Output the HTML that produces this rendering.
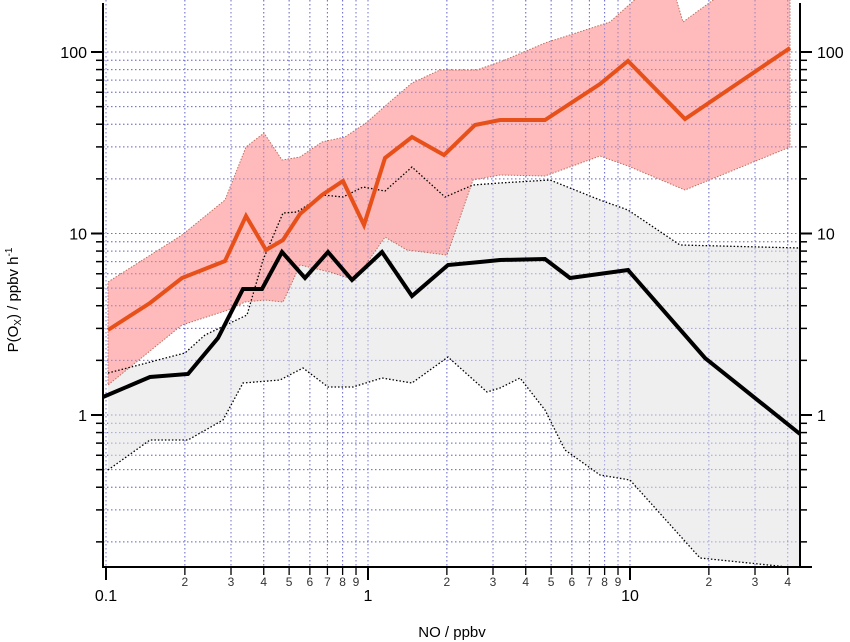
<!DOCTYPE html>
<html><head><meta charset="utf-8"><style>body{margin:0;background:#fff}svg{display:block;font-family:"Liberation Sans",sans-serif}</style></head>
<body>
<svg id="s" width="850" height="642" viewBox="0 0 850 642" xmlns="http://www.w3.org/2000/svg">
<g id="grid"></g>
<polygon fill="#efefef" points="108,373 185,353 205,335 247,315 263,260 283,213 297,212 323,195 343,197 363,187 385,191 412,167 445,197 473,185 500,183 550,180 600,200 628,210 680,245 800,248 800,567 788,567 700,558 630,480 600,475 565,450 545,410 520,378 500,388 487,392 448,357 412,383 382,378 353,387 328,387 303,368 280,380 243,383 223,420 188,440 150,440 108,470"/>
<polygon fill="#ffa8a8" fill-opacity="0.78" stroke="#c07060" stroke-width="1" stroke-dasharray="1.5,1.5" points="108,282 182,235 225,200 246,147 264,133 282,160 300,157 322,142 345,137 366,123 392,100 412,83 440,70 477,70 505,60 545,43 610,22 640,-5 675,-5 683,22 720,-5 790,-5 790,147 685,190 628,166 600,156 545,176 500,175 473,180 447,255 407,250 385,237 355,280 330,272 300,265 283,302 265,300 245,302 228,310 182,325 108,385"/>
<g id="grid2"></g>
<polyline fill="none" stroke="#000" stroke-width="1.3" stroke-dasharray="1.5,2" points="108,373 185,353 205,335 247,315 263,260 283,213 297,212 323,195 343,197 363,187 385,191 412,167 445,197 473,185 500,183 550,180 600,200 628,210 680,245 800,248"/>
<polyline fill="none" stroke="#000" stroke-width="1.3" stroke-dasharray="1.5,2" points="108,470 150,440 188,440 223,420 243,383 280,380 303,368 328,387 353,387 382,378 412,383 448,357 487,392 500,388 520,378 545,410 565,450 600,475 630,480 700,558 788,567"/>
<polyline fill="none" stroke="#e8501a" stroke-width="4" stroke-linejoin="miter" points="108,330 150,303 182,278 225,261 246,216 266,250 283,240 300,214 322,195 343,181 364,225 385,158 412,137 444,155 475,125 500,120 545,120 600,84 628,61 685,119 790,48"/>
<polyline fill="none" stroke="#000" stroke-width="4" points="103,397 150,377 188,374 218,338 243,289 262,289 282,252 305,278 328,252 352,280 382,252 412,296 448,265 480,262 500,260 545,259 570,278 628,270 705,358 800,434"/>
<g id="axes" stroke="#000"></g>
<text x="18" y="300" font-size="15" transform="rotate(-90 18 300)" text-anchor="middle">P(O<tspan font-size="10" dy="3">X</tspan><tspan dy="-3">) / ppbv h</tspan><tspan font-size="10" dy="-6">-1</tspan></text>
<text x="452" y="637" font-size="15" text-anchor="middle">NO / ppbv</text>
</svg>
<script>
const NS="http://www.w3.org/2000/svg";
const X=v=>368+262*Math.log10(v), Y=v=>415-181.5*Math.log10(v);
const L=103,R=800,T=0,B=567;
function el(p,t,a,txt){const e=document.createElementNS(NS,t);for(const k in a)e.setAttribute(k,a[k]);if(txt!==undefined)e.textContent=txt;document.getElementById(p).appendChild(e);return e;}
let xs=[],ys=[];
for(const d of [0.1,1,10])for(let m=1;m<10;m++){const v=d*m;if(v<0.1-1e-9||X(v)>R)continue;xs.push([v,m]);}
for(const d of [0.1,1,10,100])for(let m=1;m<10;m++){const v=d*m;const y=Y(v);if(y<T||y>B)continue;ys.push([v,m]);}
for(const g of ["grid","grid2"]){
 const op=g=="grid"?1:0.6;
 xs.forEach(([v])=>el(g,"line",{x1:X(v),x2:X(v),y1:T,y2:B,stroke:"#7070c8","stroke-width":1,"stroke-dasharray":"1.5,2.5",opacity:op}));
 ys.forEach(([v])=>el(g,"line",{x1:L,x2:R,y1:Y(v),y2:Y(v),stroke:"#7070c8","stroke-width":1,"stroke-dasharray":"1.5,2.5",opacity:op}));
}
el("axes","line",{x1:L,x2:L,y1:3,y2:B+1,"stroke-width":2});
el("axes","line",{x1:R,x2:R,y1:3,y2:B+1,"stroke-width":2});
el("axes","line",{x1:L-1,x2:R+12,y1:B,y2:B,"stroke-width":2});
xs.forEach(([v,m])=>{const x=X(v);el("axes","line",{x1:x,x2:x,y1:B,y2:B+(m==1?13:8),"stroke-width":m==1?2:1.3});
 if(m==1)el("axes","text",{x:x,y:601,"font-size":16,"text-anchor":"middle",stroke:"none",fill:"#000"},v==0.1?"0.1":String(Math.round(v)));
 else el("axes","text",{x:x,y:586,"font-size":12,"text-anchor":"middle",stroke:"none",fill:"#333"},String(m));});
ys.forEach(([v,m])=>{const y=Y(v);const len=m==1?12:7;
 el("axes","line",{x1:L-len,x2:L,y1:y,y2:y,"stroke-width":m==1?2:1.5});
 el("axes","line",{x1:R,x2:R+len,y1:y,y2:y,"stroke-width":m==1?2:1.5});
 if(m==1){const s=v>=100?"100":v>=10?"10":"1";
  el("axes","text",{x:L-16,y:y+6,"font-size":16,"text-anchor":"end",stroke:"none",fill:"#000"},s);
  el("axes","text",{x:R+17,y:y+6,"font-size":16,"text-anchor":"start",stroke:"none",fill:"#000"},s);}});
</script>
</body></html>
